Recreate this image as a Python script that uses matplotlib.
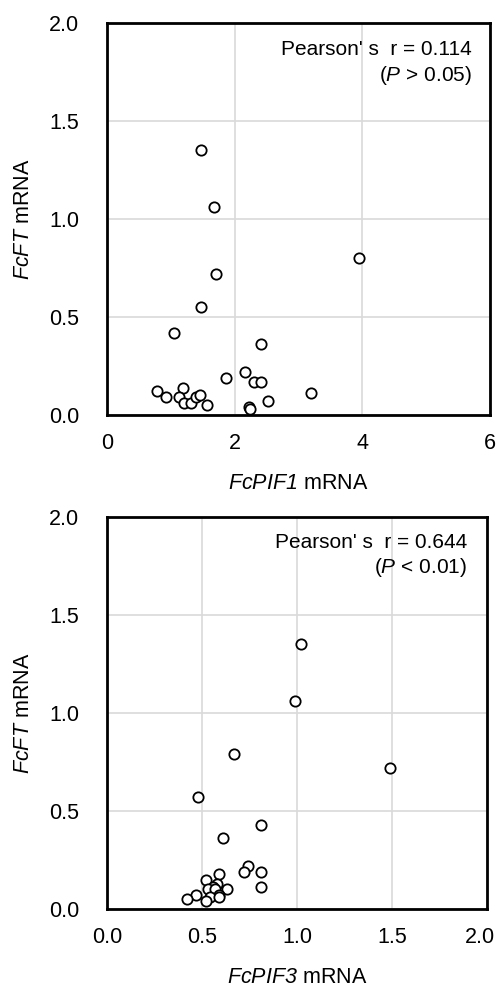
import matplotlib
matplotlib.use("Agg")
import matplotlib.pyplot as plt
from matplotlib.transforms import ScaledTranslation

plt.rcParams['font.family'] = ['Liberation Sans', 'DejaVu Sans']
plt.rcParams['mathtext.fontset'] = 'custom'
# math parts are only used for the italic gene names / P, so make them all italic
plt.rcParams['mathtext.rm'] = 'Liberation Sans:italic'
plt.rcParams['mathtext.it'] = 'Liberation Sans:italic'

# FcPIF1 vs FcFT
pif1 = [1.48, 1.67, 1.70, 3.95, 1.48, 1.05, 2.41, 1.86, 2.16, 2.31, 2.42, 0.78,
        0.92, 1.19, 1.13, 1.20, 1.31, 1.39, 1.45, 1.56, 2.22, 2.24, 2.52, 3.20]
ft1 = [1.35, 1.06, 0.72, 0.80, 0.55, 0.42, 0.36, 0.19, 0.22, 0.17, 0.17, 0.12,
       0.09, 0.14, 0.09, 0.06, 0.06, 0.09, 0.10, 0.05, 0.04, 0.03, 0.07, 0.11]

# FcPIF3 vs FcFT
pif3 = [1.02, 0.99, 0.67, 1.49, 0.48, 0.81, 0.61, 0.74, 0.72, 0.81, 0.81, 0.59,
        0.52, 0.58, 0.56, 0.53, 0.63, 0.57, 0.59, 0.54, 0.47, 0.42, 0.52, 0.59]
ft3 = [1.35, 1.06, 0.79, 0.72, 0.57, 0.43, 0.36, 0.22, 0.19, 0.19, 0.11, 0.18,
       0.15, 0.13, 0.11, 0.10, 0.10, 0.10, 0.07, 0.06, 0.07, 0.05, 0.04, 0.06]

fig = plt.figure(figsize=(5, 9.89), dpi=100)
ax1 = fig.add_axes([0.214, 0.5804, 0.766, 0.3964])
ax2 = fig.add_axes([0.214, 0.0809, 0.760, 0.3964])

panels = [
    (ax1, pif1, ft1, [0, 6], [0, 2, 4, 6], ['0', '2', '4', '6'], 'FcPIF1',
     "Pearson' s  r = 0.114", r'($P$ > 0.05)', 0.953, 0.931, 0.867),
    (ax2, pif3, ft3, [0, 2], [0, 0.5, 1.0, 1.5, 2.0], ['0.0', '0.5', '1.0', '1.5', '2.0'], 'FcPIF3',
     "Pearson' s  r = 0.644", r'($P$ < 0.01)', 0.947, 0.934, 0.870),
]

for ax, x, y, xlim, xt, xtl, xname, r_txt, p_txt, tx, ty1, ty2 in panels:
    ax.scatter(x, y, s=55, facecolors='white', edgecolors='black', linewidths=1.3, zorder=3)
    ax.set_xlim(xlim)
    ax.set_ylim(0, 2)
    ax.set_xticks(xt)
    ax.set_xticklabels(xtl)
    ax.set_yticks([0, 0.5, 1.0, 1.5, 2.0])
    ax.set_yticklabels(['0.0', '0.5', '1.0', '1.5', '2.0'])
    ax.grid(True, color='#d9d9d9', linewidth=1.2, zorder=0)
    ax.set_axisbelow(True)
    ax.tick_params(length=0, labelsize=15.5)
    ax.tick_params(axis='x', pad=13)
    ax.tick_params(axis='y', pad=20)
    for sp in ax.spines.values():
        sp.set_linewidth(2)
        sp.set_color('black')
    ax.set_xlabel('$' + xname + '$ mRNA', fontsize=15.5, labelpad=14)
    ax.set_ylabel('$FcFT$ mRNA', fontsize=15.5, labelpad=11)
    ax.text(tx, ty1, r_txt, transform=ax.transAxes, ha='right', va='center', fontsize=15)
    ax.text(tx, ty2, p_txt, transform=ax.transAxes, ha='right', va='center', fontsize=15)

# last x tick label of lower panel sits a little left, as in the original
lab = ax2.get_xticklabels()[-1]
lab.set_transform(lab.get_transform() + ScaledTranslation(-5 / 72, 0, fig.dpi_scale_trans))

fig.savefig('out.png', dpi=100)
